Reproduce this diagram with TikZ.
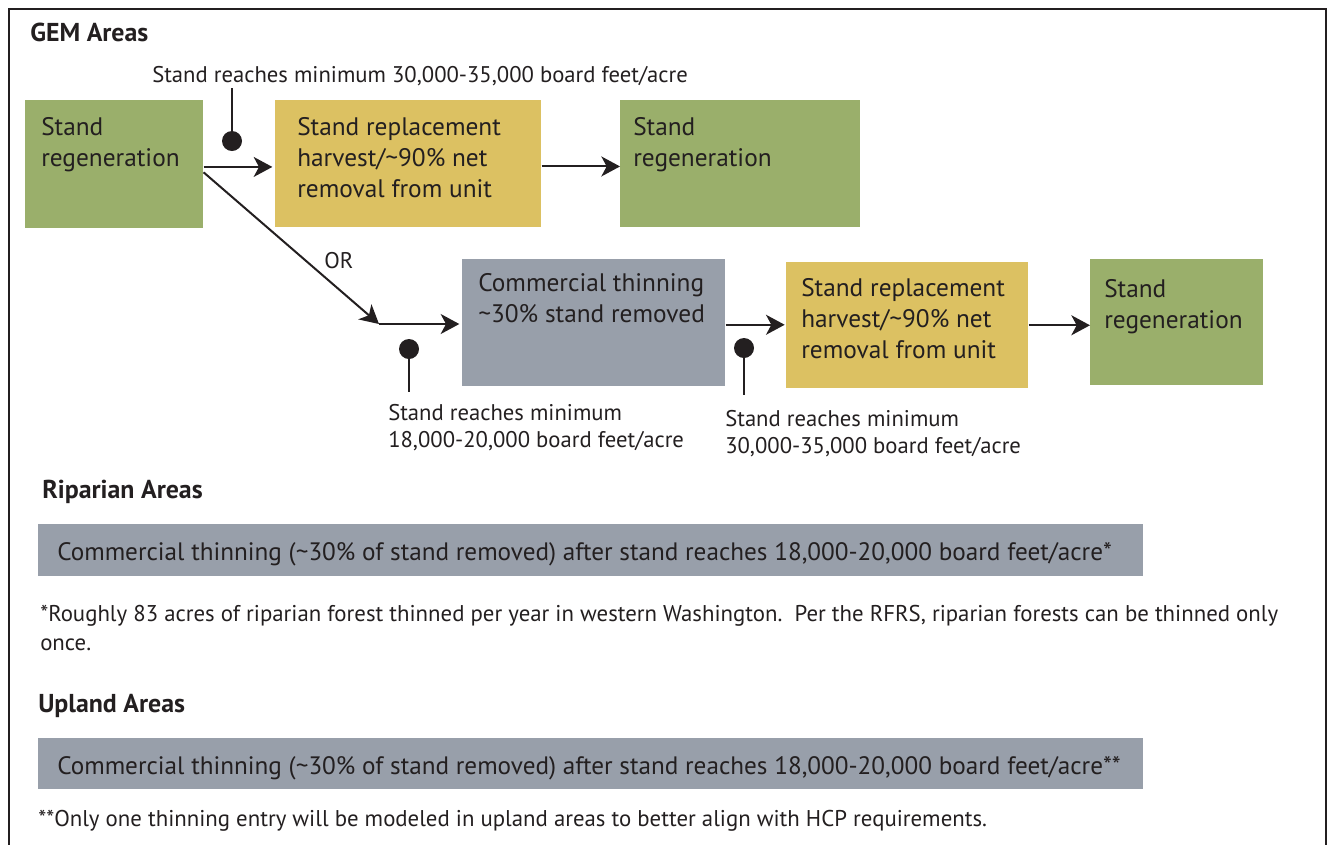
\documentclass[tikz,border=0pt]{standalone}
\usepackage{fontspec}
\setmainfont{PT Sans}
\usetikzlibrary{arrows.meta}
\definecolor{boxgreen}{HTML}{9AAF6B}
\definecolor{boxyellow}{HTML}{DCC162}
\definecolor{boxgray}{HTML}{989FAA}
\definecolor{ink}{HTML}{231F20}
\newcommand{\mlines}[1]{\begin{tabular}[t]{@{}l@{}}#1\end{tabular}}
\tikzset{
  px/.style={x=0.75pt,y=-0.75pt},
  boxbase/.style={draw=none, inner sep=0pt, anchor=north west},
  gbox/.style={boxbase, fill=boxgreen},
  ybox/.style={boxbase, fill=boxyellow},
  sbox/.style={boxbase, fill=boxgray},
  boxtxt/.style={anchor=base west, inner sep=0pt, text=ink, font=\fontsize{19}{23.25}\selectfont},
  lbltxt/.style={anchor=base west, inner sep=0pt, text=ink, font=\fontsize{17}{20.5}\selectfont},
  headtxt/.style={anchor=base west, inner sep=0pt, text=ink, font=\fontsize{19.4}{21}\selectfont\bfseries},
  bartxt/.style={anchor=base west, inner sep=0pt, text=ink, font=\fontsize{18.9}{21}\selectfont},
  notetxt/.style={anchor=base west, inner sep=0pt, text=ink, font=\fontsize{17.1}{22}\selectfont},
  arr/.style={line width=1.5pt, draw=ink, -{Stealth[length=14pt,width=15pt,inset=4pt]}},
  pinline/.style={line width=1.5pt, draw=ink},
  pindot/.style={circle, fill=ink, inner sep=0pt, minimum size=15pt},
  frame/.style={line width=2.2pt, draw=ink}
}
\begin{document}
\begin{tikzpicture}[px]
\useasboundingbox (0,0) rectangle (1333,844);
% frame
\draw[frame] (9,846) -- (9,9) -- (1326,9) -- (1326,846);
% headings
\node[headtxt] (gem) at (30,41) {GEM Areas};
\node[lbltxt] (toplbl) at (152,82) {Stand reaches minimum 30,000-35,000 board feet/acre};
% top row boxes
\node[gbox, minimum width=178*0.75pt, minimum height=128*0.75pt] (a) at (25,100) {};
\node[boxtxt] (at) at (41,135) {\mlines{Stand\\regeneration}};
\node[ybox, minimum width=266*0.75pt, minimum height=127*0.75pt] (b) at (275,100) {};
\node[boxtxt] (bt) at (297,135) {\mlines{Stand replacement\\harvest/\textasciitilde90\% net\\removal from unit}};
\node[gbox, minimum width=240*0.75pt, minimum height=127*0.75pt] (c) at (620,100) {};
\node[boxtxt] (ct) at (633,135) {\mlines{Stand\\regeneration}};
% second row boxes
\node[sbox, minimum width=263*0.75pt, minimum height=127*0.75pt] (d) at (462,259) {};
\node[boxtxt] (dt) at (478,291) {\mlines{Commercial thinning\\\textasciitilde30\% stand removed}};
\node[ybox, minimum width=242*0.75pt, minimum height=126*0.75pt] (e) at (786,262) {};
\node[boxtxt] (et) at (801,296) {\mlines{Stand replacement\\harvest/\textasciitilde90\% net\\removal from unit}};
\node[gbox, minimum width=173*0.75pt, minimum height=126*0.75pt] (f) at (1090,259) {};
\node[boxtxt] (ft) at (1104,297) {\mlines{Stand\\regeneration}};
% connectors
\draw[arr, shorten >=2pt] ([yshift=-2pt]a.east) -- ([yshift=-2pt]a.east -| b.west);
\draw[arr] ([yshift=-2pt]b.east) -- ([yshift=-2pt]b.east -| c.west);
\coordinate (orj) at (379,324);
\draw[arr] ([yshift=-6pt]a.east) -- (orj);
\draw[arr, shorten >=2pt] (orj) -- (orj -| d.west);
\draw[arr, shorten >=1pt] ([yshift=-1.5pt]d.east) -- ([yshift=-1.5pt]d.east -| e.west);
\draw[arr] (e.east) -- (e.east -| f.west);
\node[lbltxt] (or) at (324,268) {OR};
% pins
\node[pindot] (p1) at (232,141) {};
\coordinate (p1e) at (232,88);
\draw[pinline] (p1) -- (p1e);
\node[pindot] (p2) at (409,349) {};
\coordinate (p2e) at (409,392);
\draw[pinline] (p2) -- (p2e);
\node[pindot] (p3) at (744,348) {};
\coordinate (p3e) at (744,395);
\draw[pinline] (p3) -- (p3e);
\node[lbltxt] (l2) at (388,420) {\mlines{Stand reaches minimum\\18,000-20,000 board feet/acre}};
\node[lbltxt] (l3) at (725,426) {\mlines{Stand reaches minimum\\30,000-35,000 board feet/acre}};
% riparian
\node[headtxt] (rip) at (42,498) {Riparian Areas};
\node[sbox, minimum width=1105*0.75pt, minimum height=52*0.75pt] (rbar) at (38,524) {};
\node[bartxt] (rbt) at (57,560) {Commercial thinning (\textasciitilde30\% of stand removed) after stand reaches 18,000-20,000 board feet/acre*};
\node[notetxt] (rn) at (40,621) {\mlines{*Roughly 83 acres of riparian forest thinned per year in western Washington.\ \ Per the RFRS, riparian forests can be thinned only\\once.}};
% upland
\node[headtxt] (up) at (38,712) {Upland Areas};
\node[sbox, minimum width=1105*0.75pt, minimum height=51*0.75pt] (ubar) at (38,738) {};
\node[bartxt] (ubt) at (57,774) {Commercial thinning (\textasciitilde30\% of stand removed) after stand reaches 18,000-20,000 board feet/acre**};
\node[notetxt] (un) at (38,826) {**Only one thinning entry will be modeled in upland areas to better align with HCP requirements.};
\end{tikzpicture}
\end{document}
